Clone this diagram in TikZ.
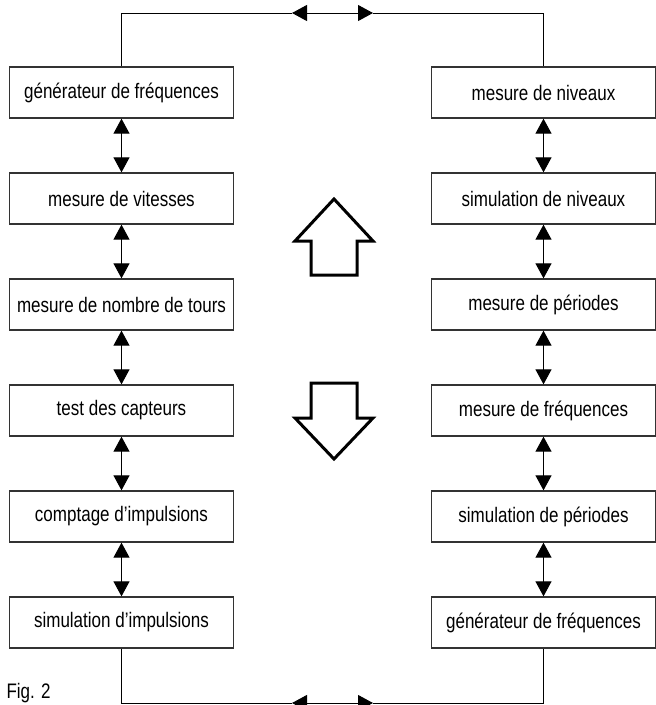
\documentclass[tikz,border=0pt]{standalone}
\usepackage{fontspec}
\setmainfont{Liberation Sans}[FakeStretch=0.81]
\usetikzlibrary{arrows.meta}
\begin{document}
\begin{tikzpicture} [x=1pt, y=1pt, node distance=106pt, line width=1pt, >={Triangle[length=15pt,width=16pt]}]
	\tikzset{box/.append style={draw=black!80, line width=1.3pt, minimum width=224pt, minimum height=51pt, inner sep=0pt, font=\fontsize{21}{24}\selectfont}}
	\tikzset{hollow/.append style={draw, line width=3pt, line join=miter}}
	\useasboundingbox (0,0) rectangle (656,-705);

	% left column
	\node[box]	(l1) at (121.5,-92.5)	{générateur de fréquences};
	\node[box]	(l2) [below of=l1]		{mesure de vitesses};
	\node[box]	(l3) [below of=l2]		{mesure de nombre de tours};
	\node[box]	(l4) [below of=l3]		{test des capteurs};
	\node[box]	(l5) [below of=l4]		{comptage d’impulsions};
	\node[box]	(l6) [below of=l5]		{simulation d’impulsions};

	% right column
	\node[box]	(r1) at (543.5,-92.5)	{mesure de niveaux};
	\node[box]	(r2) [below of=r1]		{simulation de niveaux};
	\node[box]	(r3) [below of=r2]		{mesure de périodes};
	\node[box]	(r4) [below of=r3]		{mesure de fréquences};
	\node[box]	(r5) [below of=r4]		{simulation de périodes};
	\node[box]	(r6) [below of=r5]		{générateur de fréquences};

	\node[anchor=base west, inner sep=0pt, font=\fontsize{21}{24}\selectfont] (fig) at (6,-698) {Fig. 2};

	\coordinate (tl) at (292,-13);
	\coordinate (tr) at (373,-13);
	\coordinate (bl) at (292,-703);
	\coordinate (br) at (373,-703);

	\path
		(l1) edge[<->]	(l2)
		(l2) edge[<->]	(l3)
		(l3) edge[<->]	(l4)
		(l4) edge[<->]	(l5)
		(l5) edge[<->]	(l6)
		(r1) edge[<->]	(r2)
		(r2) edge[<->]	(r3)
		(r3) edge[<->]	(r4)
		(r4) edge[<->]	(r5)
		(r5) edge[<->]	(r6)
		(tl) edge[<->]	(tr)
		(bl) edge[<->]	(br)
		;
	\draw (l1.north) |- (tl);
	\draw (tr) -| (r1.north);
	\draw (l6.south) |- (bl);
	\draw (br) -| (r6.south);

	% hollow arrows
	\draw[hollow] (334,-199) -- (373,-241) -- (357,-241) -- (357,-275) -- (311,-275) -- (311,-241) -- (295,-241) -- cycle;
	\draw[hollow] (334,-459) -- (373,-418) -- (357,-418) -- (357,-383) -- (311,-383) -- (311,-418) -- (295,-418) -- cycle;
\end{tikzpicture}
\end{document}
